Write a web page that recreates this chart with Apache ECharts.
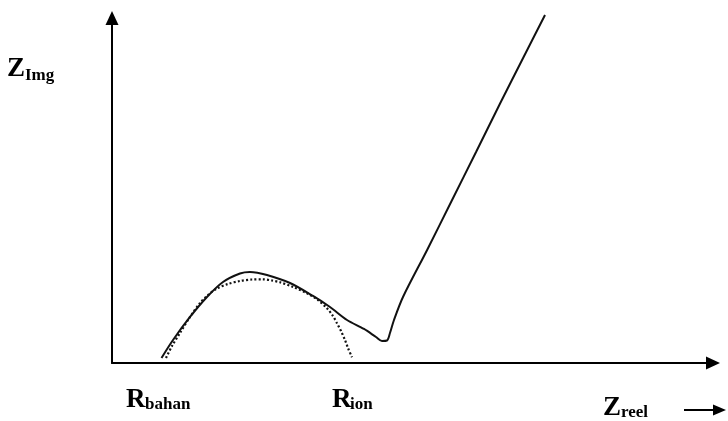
<!DOCTYPE html>
<html>
<head>
<meta charset="utf-8">
<title>Nyquist</title>
<script src="https://cdn.jsdelivr.net/npm/echarts@6/dist/echarts.min.js"></script>
<style>
  html, body { margin: 0; padding: 0; background: #ffffff; }
  #chart { width: 728px; height: 421px; }
</style>
</head>
<body>
<div id="chart"></div>
<script>
// Measured impedance spectrum: [Z real, Z imaginary] (arbitrary units)
const measuredZ = [
  [8.25, 0.83], [10.17, 3.83], [13.0, 7.67], [15.83, 11.0], [18.5, 13.5],
  [21.33, 14.92], [23.0, 15.17], [25.83, 14.67], [29.67, 13.33], [33.5, 11.17],
  [36.33, 9.33], [39.17, 7.17], [42.0, 5.67], [44.0, 4.33], [45.0, 3.67],
  [45.83, 3.75], [46.33, 5.0], [47.0, 7.17], [48.5, 11.0], [52.5, 18.8],
  [56.6, 27.0], [60.7, 35.2], [64.7, 43.3], [68.5, 50.8], [72.17, 58.0]
];

// Fitted (depressed) semicircle of the bulk/ionic response
const fittedArc = [
  [9.0, 0.83], [10.0, 2.83], [11.33, 5.0], [13.0, 7.67], [14.67, 10.0],
  [16.0, 11.33], [17.5, 12.42], [19.33, 13.17], [21.33, 13.67], [23.33, 13.92],
  [25.17, 13.95], [26.67, 13.75], [28.0, 13.45], [30.17, 12.67], [32.5, 11.62],
  [34.33, 10.5], [35.83, 9.12], [36.83, 7.83], [37.5, 6.62], [38.17, 5.33],
  [38.83, 3.83], [39.33, 2.5], [40.0, 0.95]
];

// Axis ranges
const xRange = [0, 100.17];
const yRange = [0, 57.5];

// Axis captions: [main letter, subscript]
const yCaption = ['Z', 'Img'];
const xCaption = ['Z', 'reel'];
const markBulk = ['R', 'bahan'];
const markIon = ['R', 'ion'];

const serif = '"Liberation Serif", "Times New Roman", serif';

function caption(parts, x, y, subDx, subDy) {
  return [
    {
      type: 'text', x: x, y: y, silent: true,
      style: { text: parts[0], font: 'bold 27px ' + serif, fill: '#000',
               textAlign: 'left', textVerticalAlign: 'middle' }
    },
    {
      type: 'text', x: x + subDx, y: y + subDy, silent: true,
      style: { text: parts[1], font: 'bold 17px ' + serif, fill: '#000',
               textAlign: 'left', textVerticalAlign: 'middle' }
    }
  ];
}

const chart = echarts.init(document.getElementById('chart'), null, { renderer: 'canvas' });

const axisCommon = {
  type: 'value',
  axisLabel: { show: false },
  axisTick: { show: false },
  splitLine: { show: false },
  axisLine: {
    show: true,
    symbol: ['none', 'triangle'],
    symbolSize: [13, 14],
    lineStyle: { color: '#000', width: 2 }
  }
};

chart.setOption({
  animation: false,
  backgroundColor: '#ffffff',
  grid: { left: 112, right: 15, top: 18, bottom: 58 },
  xAxis: Object.assign({}, axisCommon, { min: xRange[0], max: xRange[1] }),
  yAxis: Object.assign({}, axisCommon, { min: yRange[0], max: yRange[1] }),
  series: [
    {
      type: 'line',
      data: fittedArc,
      showSymbol: false,
      smooth: 0.3,
      clip: false,
      lineStyle: { color: '#111', width: 2.2, type: [2, 2.2] },
      z: 2
    },
    {
      type: 'line',
      data: measuredZ,
      showSymbol: false,
      smooth: 0.3,
      clip: false,
      lineStyle: { color: '#111', width: 2 },
      z: 3
    }
  ],
  graphic: [].concat(
    caption(yCaption, 7, 69, 18, 7),
    caption(markBulk, 126, 400, 19, 5),
    caption(markIon, 332, 400, 18, 5),
    caption(xCaption, 603, 408, 18, 5),
    [
      {
        type: 'line', silent: true,
        shape: { x1: 684, y1: 410, x2: 716, y2: 410 },
        style: { stroke: '#000', lineWidth: 2 }
      },
      {
        type: 'polygon', silent: true,
        shape: { points: [[713, 404.5], [726, 410], [713, 415.5]] },
        style: { fill: '#000' }
      }
    ]
  )
});
</script>
</body>
</html>
